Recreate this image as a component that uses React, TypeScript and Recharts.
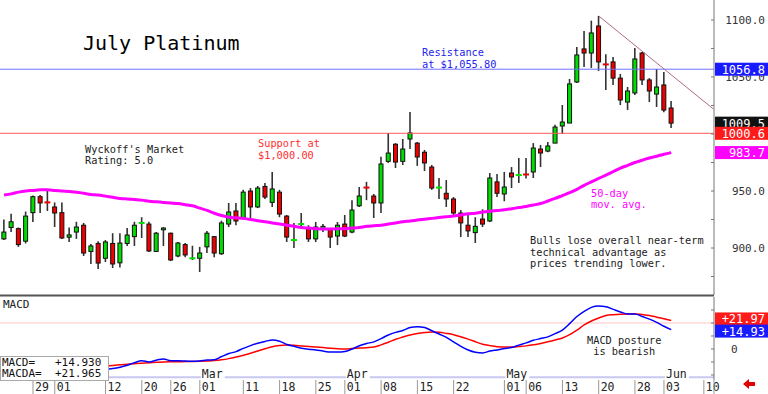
import React from "react";
import { ComposedChart, Bar, Line, XAxis, YAxis, ReferenceLine } from "recharts";

// trading days, Jan 23 .. Jun 04
const dates = [
  "01-23", "01-24", "01-25", "01-26", "01-29", "01-30", "01-31",
  "02-01", "02-02", "02-05", "02-06", "02-07", "02-08", "02-09", "02-12", "02-13", "02-14", "02-15", "02-16",
  "02-20", "02-21", "02-22", "02-23", "02-26", "02-27", "02-28", "02-29",
  "03-01", "03-04", "03-05", "03-06", "03-07", "03-08", "03-11", "03-12", "03-13", "03-14", "03-15",
  "03-18", "03-19", "03-20", "03-21", "03-22", "03-25", "03-26", "03-27", "03-28",
  "04-01", "04-02", "04-03", "04-04", "04-05", "04-08", "04-09", "04-10", "04-11", "04-12", "04-15",
  "04-16", "04-17", "04-18", "04-19", "04-22", "04-23", "04-24", "04-25", "04-26", "04-29", "04-30",
  "05-01", "05-02", "05-03", "05-06", "05-07", "05-08", "05-09", "05-10", "05-13", "05-14", "05-15",
  "05-16", "05-17", "05-20", "05-21", "05-22", "05-23", "05-24", "05-28", "05-29", "05-30", "05-31",
  "06-03", "06-04",
];

const opens = [
  908, 918, 917, 906, 931, 945, 940, 936, 931, 909.5,
  914, 920, 897, 904, 891, 904, 887, 904, 910, 921.5,
  921, 897, 916, 913, 893, 903, 890, 891, 901, 910,
  895, 921, 932.5, 926, 950, 936, 954, 940, 949, 928,
  906, 920, 918, 908, 917, 917, 910.5, 921, 914, 937,
  953, 945.6, 939.5, 976, 991, 976, 995.6, 992, 984, 971,
  952.2, 948, 943, 930.7, 920, 913.5, 925.4, 923.7, 958, 947.4,
  965.8, 963.5, 964.5, 966.7, 986.8, 985, 992, 1007, 1009.6, 1045.6,
  1074.6, 1071, 1094.7, 1061, 1063.2, 1049, 1028, 1036, 1071, 1047.4,
  1035, 1043, 1022.8,
];
const highs = [
  925, 930, 918, 932, 946, 946.5, 950, 940, 940, 918,
  923, 922, 903.5, 906, 907, 913, 913, 917.5, 923, 927,
  923, 914, 918.4, 913.5, 905.3, 904.4, 902, 901, 915, 910.5,
  924, 939.5, 939.5, 951, 952.6, 954.4, 957, 966.7, 951, 929,
  922, 930.7, 920, 922.8, 921, 917.5, 922.8, 929, 942, 953.5,
  958, 947.4, 980, 1000.9, 992, 995.6, 1019.3, 993, 986, 972.8,
  961.4, 959.6, 944.7, 933.3, 929, 927, 934, 965.8, 965, 966.7,
  971, 979, 979, 992, 990.4, 993, 1008, 1025.4, 1048.2, 1076.3,
  1090.4, 1099.4, 1103.5, 1070, 1067.5, 1052.6, 1041.2, 1075.4, 1072, 1049,
  1057, 1054.4, 1029,
];
const lows = [
  907, 914, 901, 904, 922.8, 930.7, 932.5, 918.4, 908, 905.3,
  908, 893, 886, 881.6, 887.7, 882.5, 883, 901.8, 901.8, 908.8,
  896.5, 896.5, 901.8, 888.6, 892, 892, 889.5, 879, 895.6, 892,
  893.9, 918.4, 920, 925, 924.6, 935, 943, 936, 927, 905.3,
  900, 917.5, 905.3, 905.3, 914, 900, 902.6, 909.6, 913, 936,
  942, 926.3, 930.7, 974.6, 970.2, 972.8, 986.8, 972, 967.5, 951,
  943, 936, 929, 909.6, 909.6, 904.4, 918.4, 922.8, 944.7, 941,
  952.6, 957, 961, 961.4, 971, 984, 992, 1000, 1009.6, 1044.7,
  1058.8, 1057.9, 1055.3, 1038.6, 1043, 1025.4, 1021, 1034.2, 1043, 1028,
  1023.7, 1019, 1005.3,
];
const closes = [
  914, 923, 903, 928, 945, 939.5, 939, 930.7, 908.8, 911.5,
  918.4, 895.6, 901.8, 886.8, 905.3, 886, 904.4, 911.4, 920, 922,
  897.4, 913, 917.5, 889.5, 904.4, 893.9, 891, 895.6, 913, 895.6,
  922, 931.6, 923.7, 949, 936, 952.6, 944.7, 951.8, 929.8, 909.6,
  907, 921, 908, 918.4, 919, 909.6, 920, 910.5, 933.3, 945.6,
  952, 939.5, 973.7, 983.3, 975.4, 986.8, 1000.9, 979.8, 974.6, 952.6,
  953, 943, 930.7, 922, 915, 919, 921, 961.4, 948, 953.5,
  962.3, 964, 963.5, 987.7, 983.3, 989.5, 1006.1, 1010.5, 1043.9, 1069.3,
  1071, 1088.6, 1063.2, 1060, 1049, 1029.8, 1037.7, 1065.8, 1047.4, 1037.7,
  1041.2, 1021, 1009.5,
];
const ma50 = [
  946.5, 947.5, 949, 950, 950.5, 951, 951, 950.5, 950, 949.5,
  949, 948, 947, 946.5, 945.5, 944.5, 943.5, 943, 942.5, 942,
  941, 940.5, 940, 939.5, 939, 938, 937, 935, 933, 930.5,
  928.5, 927, 926.5, 926, 925, 924, 923, 922, 921, 920,
  919, 918, 917.5, 917, 916.7, 916.7, 916.8, 917, 917.5, 918,
  919, 919.5, 920, 921, 922, 923, 923.7, 924.5, 925.3, 926,
  926.8, 927.5, 928, 929, 930, 930.5, 931.5, 932.3, 933, 933.5,
  934.5, 935.5, 936.5, 937.7, 939, 941.2, 943.5, 946, 948.5, 951.5,
  955, 958, 961, 964, 967, 970, 972.5, 975, 977, 979,
  980.5, 982.2, 983.7,
];
const macd = [
  null, null, null, null, null, null, null, null, null, null,
  null, null, null, -16.5, -15.6, -15, -14, -12.5, -10.5, -9,
  -10, -8.6, -7.7, -9, -9, -9.2, -9.5, -9.2, -8.5, -8.3,
  -5.8, -3.5, -2, 0.5, 2.6, 4.4, 5.8, 7, 6, 3.5,
  2, 0.5, -0.2, -0.8, -1.6, -2.3, -2.4, -2, 0, 2.5,
  4.2, 5.5, 8, 10.8, 12.8, 14.2, 16.5, 17.2, 16.6, 14,
  11.5, 9, 5.5, 2, -0.8, -2.5, -3, -1.6, -0.7, 0.3,
  1.2, 3, 4.7, 6.7, 8, 9.3, 11.8, 14.6, 19.5, 25,
  29, 32, 33, 32.5, 30.5, 28.5, 27, 27, 25, 23,
  20.5, 17.5, 14.93,
];
const macdAvg = [
  null, null, null, null, null, null, null, null, null, null,
  null, null, null, -13.5, -13.1, -12.7, -12.2, -11.7, -11.3, -10.9,
  -10.6, -10.2, -10, -9.9, -9.8, -9.7, -9.6, -9.4, -9.2, -8.9,
  -8.3, -7.4, -6.2, -4.8, -3.2, -1.5, 0.2, 1.8, 2.6, 3,
  2.8, 2.4, 2, 1.5, 1.1, 0.6, 0.2, 0, 0.3, 0.7,
  1, 1.5, 3.2, 5.2, 7.5, 9.2, 10.8, 11.9, 12.6, 13,
  12.8, 12, 11, 9.4, 7.6, 5.6, 3.6, 2.6, 1.8, 1.5,
  1.5, 1.9, 2.4, 3.2, 4.3, 5.5, 6.9, 8.5, 11, 14.5,
  18.5, 21.5, 23.8, 25.8, 26.4, 26.8, 27, 27, 26.5, 25.8,
  24.5, 23.2, 21.965,
];

const tickIdx = [4, 7, 14, 19, 23, 27, 33, 38, 43, 47, 52, 57, 62, 69, 72, 77, 82, 87, 91, 96.5];
const tickLabels = ["29", "01", "12", "20", "26", "01", "11", "18", "25", "01", "08", "15", "22", "01", "06", "13", "20", "28", "03", "10"];
const monthIdx = [27, 47, 69, 91];
const monthLabels = ["Mar", "Apr", "May", "Jun"];
const priceTicks = [875, 900, 925, 950, 975, 1000, 1025, 1050, 1075, 1100];
const macdTicks = [-20, -10, 0, 10, 20, 30];

const resistanceLevel = 1056.8;
const supportLevel = 1000.6;
const macdRefLevel = 20;
const trendStart = { x: 82, y: 1103.5 };
const trendEnd = { x: 97.8, y: 1022 };

const X_DOMAIN: [number, number] = [-0.55, 97.9];
const PRICE_DOMAIN: [number, number] = [858.8, 1117.5];
const MACD_DOMAIN: [number, number] = [-23.85, 40];
const MONO = "DejaVu Sans Mono";

const priceRows = dates.map((date, i) => ({
  i,
  date,
  o: opens[i],
  h: highs[i],
  l: lows[i],
  c: closes[i],
  hl: [lows[i], highs[i]],
  ma: ma50[i],
}));
const macdRows = dates.map((date, i) => ({ i, date, macd: macd[i], avg: macdAvg[i] }));
const last = dates.length - 1;

function Candle(props: any) {
  const { x, y, width, height, payload } = props;
  if (x == null || !payload) return null;
  const { o, h, l, c } = payload;
  const k = h > l ? height / (h - l) : 0;
  const mid = x + width / 2;
  const yo = y + (h - o) * k;
  const yc = y + (h - c) * k;
  const top = Math.min(yo, yc);
  const bodyH = Math.abs(yo - yc);
  const fill = c >= o ? "#00dd00" : "#ee0000";
  return (
    <g>
      <line x1={mid} x2={mid} y1={y} y2={y + height} stroke="#333" strokeWidth={1.6} />
      {bodyH < 1.3 ? (
        <rect x={mid - 3} y={top - 1} width={6} height={2} fill={fill} />
      ) : (
        <rect x={mid - 2} y={top} width={4} height={bodyH} fill={fill} stroke="#111" strokeWidth={1} />
      )}
    </g>
  );
}

function PriceTick(props: any) {
  const { x, y, payload } = props;
  const v = payload.value;
  return (
    <g>
      <line x1={x - 3} x2={x} y1={y} y2={y} stroke="#777" />
      {v % 50 === 0 && (
        <text x={x + 51} y={y + 4} textAnchor="end" fontSize={11} fill="#333" fontFamily={MONO}>
          {v.toFixed(1)}
        </text>
      )}
    </g>
  );
}

function MacdTick(props: any) {
  const { x, y, payload } = props;
  const v = payload.value;
  return (
    <g>
      <line x1={x - 3} x2={x} y1={y} y2={y} stroke="#777" />
      {v === 0 && (
        <text x={x + 17} y={y + 4} fontSize={11} fill="#333" fontFamily={MONO}>
          0
        </text>
      )}
    </g>
  );
}

function DateTick(props: any) {
  const { x, y, payload } = props;
  const label = tickLabels[tickIdx.indexOf(payload.value)];
  return (
    <g>
      <line x1={x} x2={x} y1={y} y2={y + 14} stroke="#999" />
      <text x={x + 2} y={y + 11} fontSize={11.5} fill="#222" fontFamily={MONO}>
        {label}
      </text>
    </g>
  );
}

const tag = (text: string, bg: string, dy = 0) => (props: any) => {
  const vb = props.viewBox;
  const x = vb.x + vb.width + 1;
  const y = vb.y + dy;
  return (
    <g>
      <rect x={x} y={y - 6.5} width={53} height={13} fill={bg} />
      <text x={x + 50} y={y + 4.5} textAnchor="end" fontSize={12} fill="#fff" fontFamily={MONO}>
        {text}
      </text>
    </g>
  );
};

const monthTag = (text: string) => (props: any) => {
  const vb = props.viewBox;
  const x = vb.x + 1;
  const base = vb.y + vb.height - 2;
  return (
    <g>
      <rect x={x} y={base - 10} width={text.length * 7 + 3} height={12} fill="#fff" />
      <text x={x + 1} y={base} fontSize={11.5} fill="#222" fontFamily={MONO}>
        {text}
      </text>
    </g>
  );
};

const fmt2 = (v: number) => (v >= 0 ? "+" : "") + (v + 1e-9).toFixed(2);
const note = { fontFamily: MONO, fontSize: 10.3 };

export default function App() {
  return (
    <div style={{ position: "absolute", left: 0, top: 0, width: 768, height: 394, background: "#fff" }}>
      <div style={{ position: "absolute", left: 0, top: 0 }}>
        <ComposedChart width={768} height={295} data={priceRows} margin={{ top: 0, right: 0, bottom: 0, left: 0 }}>
          <XAxis dataKey="i" type="number" domain={X_DOMAIN} allowDataOverflow hide />
          <YAxis
            orientation="right"
            width={54}
            domain={PRICE_DOMAIN}
            allowDataOverflow
            ticks={priceTicks}
            interval={0}
            tickSize={0}
            tickMargin={0}
            tickLine={false}
            axisLine={{ stroke: "#777" }}
            tick={<PriceTick />}
          />
          <ReferenceLine y={resistanceLevel} stroke="#6f6fff" />
          <ReferenceLine y={supportLevel} stroke="#ff5a5a" />
          <ReferenceLine segment={[trendStart, trendEnd]} stroke="#b06a8a" strokeWidth={1} />
          <Line
            dataKey="ma"
            type="monotone"
            stroke="#ff00ff"
            strokeWidth={3}
            dot={false}
            isAnimationActive={false}
          />
          <Bar dataKey="hl" barSize={5} shape={<Candle />} isAnimationActive={false} />
        </ComposedChart>
      </div>

      {/* value tags on the price scale, drawn above the axis labels */}
      <div style={{ position: "absolute", left: 0, top: 0 }}>
        <ComposedChart width={768} height={295} data={priceRows} margin={{ top: 0, right: 54, bottom: 0, left: 0 }}>
          <XAxis dataKey="i" type="number" domain={X_DOMAIN} allowDataOverflow hide />
          <YAxis domain={PRICE_DOMAIN} allowDataOverflow hide />
          <ReferenceLine y={resistanceLevel} stroke="none" label={tag(resistanceLevel.toFixed(1), "#1a1aff")} />
          <ReferenceLine y={closes[last]} stroke="none" label={tag(closes[last].toFixed(1), "#111")} />
          <ReferenceLine y={supportLevel} stroke="none" label={tag(supportLevel.toFixed(1), "#ff1a1a")} />
          <ReferenceLine y={ma50[last]} stroke="none" label={tag(ma50[last].toFixed(1), "#ff00ff")} />
        </ComposedChart>
      </div>

      <div style={{ position: "absolute", left: 0, top: 296 }}>
        <ComposedChart width={768} height={98} data={macdRows} margin={{ top: 1, right: 0, bottom: 0, left: 0 }}>
          <XAxis
            dataKey="i"
            type="number"
            domain={X_DOMAIN}
            allowDataOverflow
            ticks={tickIdx}
            interval={0}
            height={14}
            tickSize={0}
            tickMargin={0}
            axisLine={false}
            tickLine={false}
            tick={<DateTick />}
          />
          <YAxis
            orientation="right"
            width={54}
            domain={MACD_DOMAIN}
            allowDataOverflow
            ticks={macdTicks}
            interval={0}
            tickSize={0}
            tickMargin={0}
            tickLine={false}
            axisLine={{ stroke: "#777" }}
            tick={<MacdTick />}
          />
          <ReferenceLine y={macdRefLevel} stroke="#ffc4c4" />
          <ReferenceLine y={-21.8} stroke="#c8c8f0" strokeWidth={2} />
          {monthIdx.map((m, k) => (
            <ReferenceLine key={m} x={m} stroke="none" label={monthTag(monthLabels[k])} />
          ))}
          <Line dataKey="avg" type="monotone" stroke="#ff0000" strokeWidth={1.5} dot={false} isAnimationActive={false} />
          <Line dataKey="macd" type="monotone" stroke="#0000ff" strokeWidth={1.5} dot={false} isAnimationActive={false} />
          <ReferenceLine y={macdAvg[last]!} stroke="none" label={tag(fmt2(macdAvg[last]!), "#ff1a1a", -1.5)} />
          <ReferenceLine y={macd[last]!} stroke="none" label={tag(fmt2(macd[last]!), "#1a1aff", 1.5)} />
        </ComposedChart>
      </div>

      <svg width={768} height={394} style={{ position: "absolute", left: 0, top: 0, pointerEvents: "none" }}>
        <rect x={0} y={294.5} width={714} height={2} fill="#555" />
        <line x1={714} x2={714} y1={380} y2={394} stroke="#999" />
        <text x={83} y={50} fontFamily={MONO} fontSize={20} fill="#000">July Platinum</text>
        <g {...note} fill="#2424ee">
          <text x={422} y={56}>Resistance</text>
          <text x={422} y={67.5}>at $1,055.80</text>
        </g>
        <g {...note} fill="#ff3030">
          <text x={258} y={147}>Support at</text>
          <text x={258} y={158.5}>$1,000.00</text>
        </g>
        <g {...note} fill="#222">
          <text x={85} y={152.5}>Wyckoff's Market</text>
          <text x={85} y={163.5}>Rating: 5.0</text>
        </g>
        <g {...note} fill="#ff00ff">
          <text x={591} y={196.5}>50-day</text>
          <text x={591} y={208}>mov. avg.</text>
        </g>
        <g {...note} fill="#222">
          <text x={530} y={244}>Bulls lose overall near-term</text>
          <text x={530} y={255.5}>technical advantage as</text>
          <text x={530} y={267}>prices trending lower.</text>
        </g>
        <text x={3} y={308} fontFamily={MONO} fontSize={11} fill="#222">MACD</text>
        <g {...note} fill="#222">
          <text x={587} y={344}>MACD posture</text>
          <text x={587} y={355} xmlSpace="preserve">{" is bearish"}</text>
        </g>
        <rect x={0.5} y={356.5} width={108} height={24} fill="#fff" stroke="#aaa" />
        <g fontFamily={MONO} fontSize={11} fill="#111">
          <text x={2} y={366} xmlSpace="preserve">{"MACD=   +" + macd[last]!.toFixed(3)}</text>
          <text x={2} y={377} xmlSpace="preserve">{"MACDA=  +" + macdAvg[last]!.toFixed(3)}</text>
        </g>
        <polygon points="743,384 749,379 749,382 755,382 755,386 749,386 749,389" fill="#e00000" />
      </svg>
    </div>
  );
}
